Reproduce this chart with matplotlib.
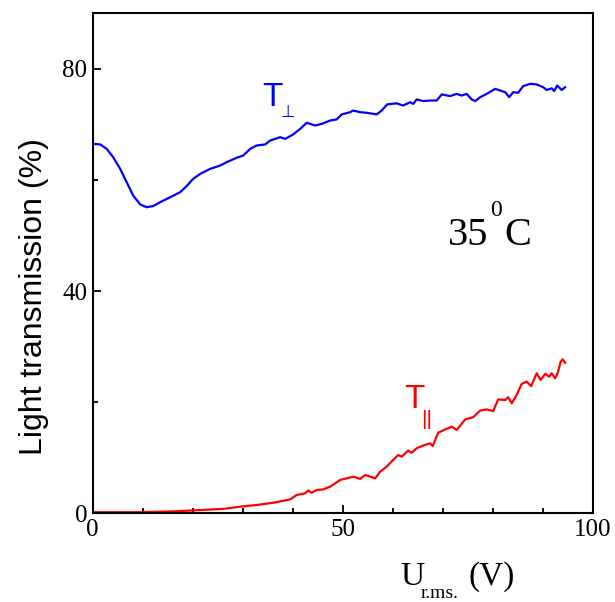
import numpy as np
import matplotlib
matplotlib.use('Agg')
import matplotlib.pyplot as plt
from matplotlib.ticker import MultipleLocator

plt.rcParams.update({
    'font.family': 'Liberation Serif', 'axes.linewidth': 1.5,
    'xtick.direction': 'in', 'ytick.direction': 'in',
})

# ---------- data ----------
# T_perp (blue)
u_perp = [0.1, 1.5, 2.8, 4.1, 5.5, 6.8, 8.1, 9.5, 10.8, 12.1, 13.5, 15.5, 17.5, 18.8,
          20.1, 21.5, 23.5, 25.5, 26.8, 28.8, 30.1, 31.5, 32.8, 34.5, 35.5, 37.5, 38.5,
          40.1, 41.5, 42.8, 44.5, 45.8, 47.5, 48.8, 49.8, 51.5, 52.1, 53.5, 54.8, 56.8,
          57.8, 58.9, 60.8, 62.1, 63.5, 64.1, 64.8, 66.1, 67.5, 68.8, 69.8, 71.5, 72.8,
          73.8, 74.8, 75.8, 76.5, 77.5, 78.8, 80.5, 81.5, 82.5, 83.3, 84.1, 85.1, 86.1,
          87.5, 88.8, 90.1, 90.8, 91.8, 92.3, 92.9, 93.8, 94.5]
t_perp = [66.5, 66.4, 65.6, 64.1, 62.0, 59.6, 57.2, 55.6, 55.1, 55.3, 56.0, 56.9, 57.8, 58.9,
          60.2, 61.1, 62.0, 62.6, 63.2, 64.0, 64.4, 65.6, 66.2, 66.4, 67.1, 67.7, 67.4,
          68.2, 69.2, 70.3, 69.8, 70.1, 70.7, 70.9, 71.8, 72.2, 72.5, 72.2, 72.1, 71.8,
          72.5, 73.6, 73.8, 73.4, 74.0, 73.7, 74.5, 74.2, 74.3, 74.3, 75.4, 75.1, 75.5,
          75.2, 75.5, 74.5, 74.2, 74.9, 75.5, 76.4, 76.1, 75.8, 74.9, 75.8, 75.7, 76.9,
          77.3, 77.2, 76.7, 76.2, 76.5, 76.0, 77.0, 76.2, 76.7]

# T_par (red)
u_par = [0.1, 9.5, 16.1, 19.5, 22.8, 26.1, 29.5, 32.8, 36.1, 39.5, 40.8, 42.5, 43.1, 43.8,
         44.8, 46.1, 47.5, 49.5, 50.8, 52.1, 53.5, 54.5, 55.5, 56.5, 57.5, 58.8, 60.1,
         61.1, 61.8, 63.1, 63.8, 64.8, 66.1, 67.5, 68.0, 69.1, 70.5, 71.8, 72.8, 74.5,
         76.1, 77.5, 78.8, 80.1, 81.1, 82.5, 83.1, 83.8, 84.8, 85.8, 86.8, 87.7, 88.8,
         89.6, 90.5, 91.3, 91.8, 92.5, 93.1, 93.6, 94.0, 94.5]
t_par = [0.2, 0.2, 0.35, 0.5, 0.65, 0.8, 1.2, 1.5, 1.9, 2.5, 3.3, 3.6, 4.1, 3.7,
         4.2, 4.3, 4.8, 6.0, 6.3, 6.6, 6.2, 6.9, 6.6, 6.3, 7.5, 8.4, 9.6,
         10.5, 10.2, 11.3, 10.9, 11.7, 12.2, 12.6, 12.1, 14.5, 15.1, 15.6, 15.0, 16.9,
         17.3, 18.5, 18.7, 18.4, 20.5, 20.4, 20.9, 19.8, 21.3, 23.3, 23.7, 22.9, 25.2,
         24.0, 25.1, 24.6, 25.2, 24.3, 25.5, 27.3, 27.7, 27.1]

BLU = '#0000ff'; RED = '#ff0000'
W, H = 615, 602

fig = plt.figure(figsize=(W/100, H/100), dpi=100)
ax = fig.add_axes([0.1507, 0.1473, 0.813, 0.8306])
ax.plot(u_perp, t_perp, color=BLU, lw=1.6)
ax.plot(u_par, t_par, color=RED, lw=1.6)

ax.set_xlim(0, 100); ax.set_ylim(0, 90)
ax.xaxis.set_major_locator(MultipleLocator(50)); ax.xaxis.set_minor_locator(MultipleLocator(10))
ax.yaxis.set_major_locator(MultipleLocator(40)); ax.yaxis.set_minor_locator(MultipleLocator(20))
ax.tick_params(which='major', length=6, width=1.3, labelsize=18, pad=4)
ax.tick_params(which='minor', length=3.5, width=1.3)

ax.set_ylabel('Light transmission (%)', family='Liberation Sans', fontsize=23)
ax.yaxis.set_label_coords(-0.088, 0.433)

# x label built from pieces (pixel positions from the reference)
fig.text(400/W, 1-585/H, 'U', fontsize=24, va='baseline')
fig.text(421/W, 1-598/H, 'r.ms.', fontsize=14, va='baseline')
fig.text(469/W, 1-585/H, '(V)', fontsize=24, va='baseline')

# curve labels
ax.text(34, 73.4, 'T', color=BLU, family='Liberation Sans', fontsize=24)
ax.text(37.6, 71.3, '\u22a5', color=BLU, family='DejaVu Sans', fontsize=12)
ax.text(62.3, 18.9, 'T', color=RED, family='Liberation Sans', fontsize=24)
ax.text(65.7, 15.9, '||', color=RED, family='Liberation Sans', fontsize=15)

ax.text(71.1, 48.3, '35', fontsize=29)
ax.text(79.5, 53.5, '0', fontsize=17)
ax.text(82.3, 48.3, 'C', fontsize=29)

plt.savefig('out.png', dpi=100)
